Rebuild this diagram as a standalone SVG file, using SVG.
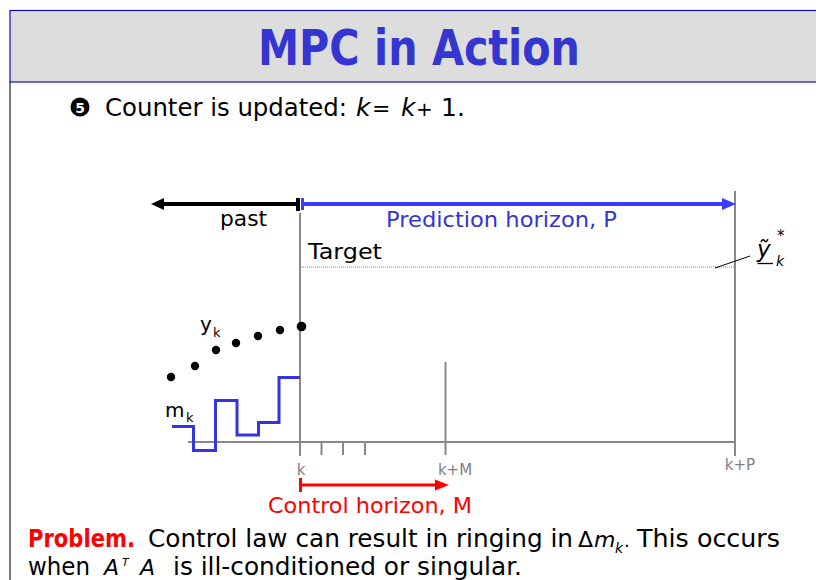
<svg xmlns="http://www.w3.org/2000/svg" width="816" height="580" viewBox="0 0 816 580">
<style>
text{font-family:"DejaVu Sans","Open Sans",sans-serif;}
.t{font-size:25px;}
.it{font-style:italic;}
.lbl{font-size:21px;}
.ax{font-size:15px;fill:#808080;}
.g{stroke:#888;stroke-width:2;fill:none;}
</style>
<rect x="0" y="0" width="816" height="580" fill="#fff"/>
<g id="title">
<rect x="10" y="10.5" width="810" height="71.5" fill="#dddddd" stroke="#1010b0" stroke-width="1.2"/>
<text x="419" y="65" text-anchor="middle" font-size="50" font-weight="bold" fill="#3535d0" textLength="322" lengthAdjust="spacingAndGlyphs">MPC in Action</text>
</g>
<line x1="10" y1="82" x2="10" y2="580" stroke="#222" stroke-width="1.2"/>
<g id="counter">
<circle cx="80" cy="107" r="9.5" fill="#000"/>
<text x="80" y="112.5" text-anchor="middle" font-size="14" font-weight="bold" fill="#fff">5</text>
<text class="t" x="105" y="116" textLength="242" lengthAdjust="spacingAndGlyphs">Counter is updated:</text>
<text class="t it" x="356" y="116">k</text>
<text x="372" y="116" style="font-size:22px">=</text>
<text class="t it" x="401" y="116">k</text>
<text x="416" y="116" style="font-size:20px">+</text>
<text class="t" x="441" y="116">1.</text>
</g>
<g id="axes">
<line class="g" x1="300" y1="213" x2="300" y2="456"/>
<line class="g" x1="735" y1="191" x2="735" y2="456"/>
<line class="g" x1="188" y1="442" x2="735" y2="442"/>
<line class="g" x1="321.5" y1="442" x2="321.5" y2="455"/>
<line class="g" x1="343" y1="442" x2="343" y2="455"/>
<line class="g" x1="365" y1="442" x2="365" y2="455"/>
<line class="g" x1="445.5" y1="362" x2="445.5" y2="455"/>
<text class="ax" x="301" y="475" text-anchor="middle">k</text>
<text class="ax" x="455" y="475" text-anchor="middle">k+M</text>
<text class="ax" x="740" y="470" text-anchor="middle">k+P</text>
</g>
<g id="past">
<line x1="298" y1="204" x2="162" y2="204" stroke="#000" stroke-width="4"/>
<polygon points="151,204 164,198 164,210" fill="#000"/>
<rect x="296" y="198" width="4" height="13" fill="#000"/>
<text class="lbl" x="220" y="226" textLength="47" lengthAdjust="spacingAndGlyphs">past</text>
</g>
<g id="prediction">
<line x1="302" y1="204" x2="724" y2="204" stroke="#3c3cff" stroke-width="4"/>
<polygon points="736,204 722,198 722,210" fill="#3c3cff"/>
<rect x="301" y="198" width="3" height="12" fill="#3c3cff"/>
<text class="lbl" x="386" y="227" fill="#3535d0" textLength="231" lengthAdjust="spacingAndGlyphs">Prediction horizon, P</text>
</g>
<g id="target">
<text class="lbl" x="308" y="259" textLength="74" lengthAdjust="spacingAndGlyphs">Target</text>
<line x1="301" y1="267" x2="735" y2="267" stroke="#888" stroke-width="1" stroke-dasharray="1,1"/>
<line x1="715" y1="268" x2="750" y2="256" stroke="#000" stroke-width="1"/>
<text x="757" y="257" font-size="23" class="it">ỹ</text>
<line x1="757.5" y1="263.5" x2="773" y2="263.5" stroke="#000" stroke-width="1.3"/>
<text x="777" y="241" font-size="15">*</text>
<text x="776" y="266" font-size="14" class="it">k</text>
</g>
<g id="output">
<text x="200" y="331" font-size="20">y</text>
<text x="213" y="337" font-size="13">k</text>
<circle cx="171" cy="377" r="4.2" fill="#000"/>
<circle cx="195" cy="366" r="4.2" fill="#000"/>
<circle cx="216" cy="350" r="4.2" fill="#000"/>
<circle cx="236" cy="343" r="4.2" fill="#000"/>
<circle cx="258" cy="336" r="4.2" fill="#000"/>
<circle cx="280" cy="330" r="4.2" fill="#000"/>
<circle cx="301.5" cy="326.5" r="4.8" fill="#000"/>
</g>
<g id="input">
<text x="165" y="417" font-size="20">m</text>
<text x="186" y="422" font-size="13">k</text>
<polyline points="172,426.5 193.5,426.5 193.5,450.5 215.5,450.5 215.5,400.5 237,400.5 237,435 258.5,435 258.5,422.5 279,422.5 279,377.5 300,377.5" fill="none" stroke="#3535e0" stroke-width="3"/>
</g>
<g id="control">
<line x1="300" y1="485" x2="437" y2="485" stroke="#ff0000" stroke-width="3"/>
<polygon points="449,485 435,479.5 435,490.5" fill="#ff0000"/>
<rect x="299" y="478" width="3" height="14" fill="#ff0000"/>
<text class="lbl" x="268" y="513" fill="#ff0000" textLength="204" lengthAdjust="spacingAndGlyphs">Control horizon, M</text>
</g>
<g id="problem">
<text class="t" x="28" y="547" font-weight="bold" fill="#ff0000" textLength="107" lengthAdjust="spacingAndGlyphs">Problem.</text>
<text class="t" x="148" y="547" textLength="425" lengthAdjust="spacingAndGlyphs">Control law can result in ringing in</text>
<text x="578" y="547" style="font-size:22px">Δ</text>
<text class="it" x="594" y="547" style="font-size:22px">m</text>
<text class="it" x="615" y="553" style="font-size:14px">k</text>
<text x="624" y="547" style="font-size:18px">.</text>
<text class="t" x="637" y="547" textLength="143" lengthAdjust="spacingAndGlyphs">This occurs</text>
<text class="t" x="28" y="575" textLength="62" lengthAdjust="spacingAndGlyphs">when</text>
<text class="it" x="104" y="575" style="font-size:22px">A</text>
<text class="it" x="122" y="566" style="font-size:11px">T</text>
<text class="it" x="140" y="575" style="font-size:22px">A</text>
<text class="t" x="173" y="575" textLength="349" lengthAdjust="spacingAndGlyphs">is ill-conditioned or singular.</text>
</g>
</svg>
